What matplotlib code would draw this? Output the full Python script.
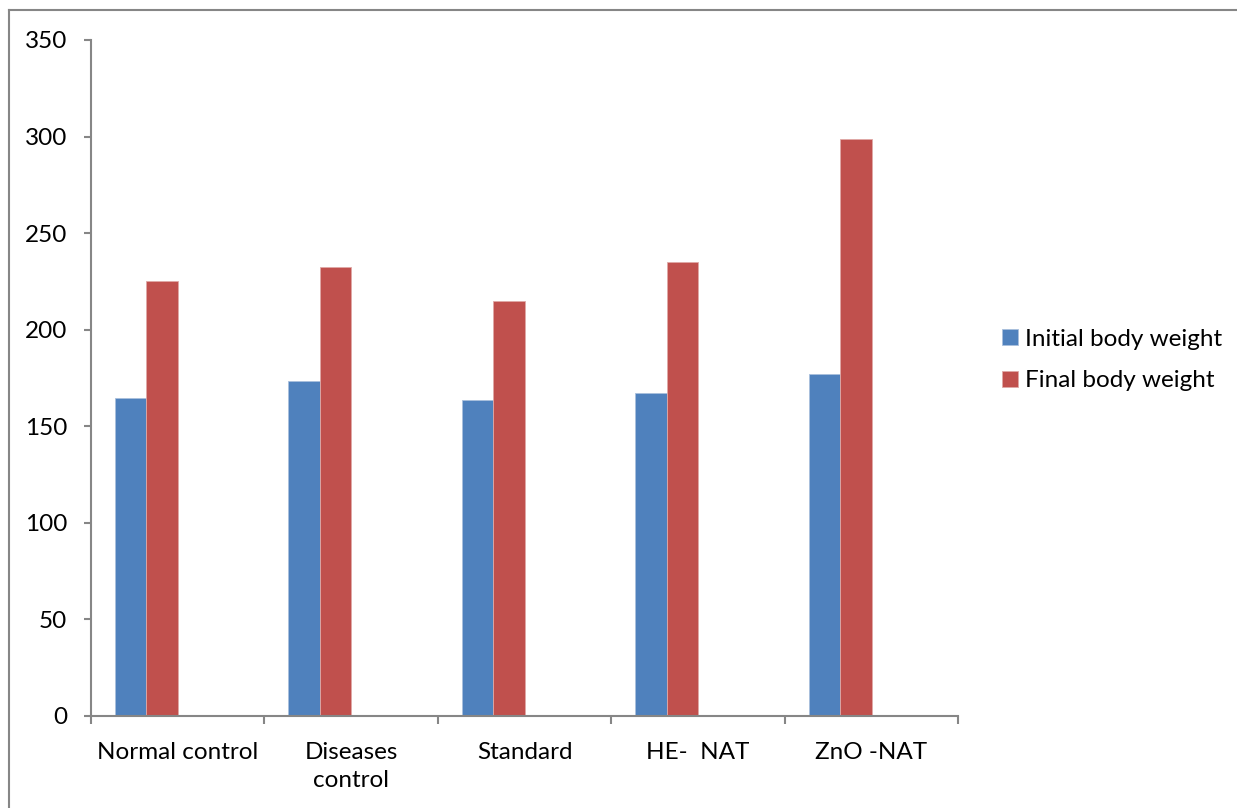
import numpy as np
import matplotlib.pyplot as plt
from matplotlib.lines import Line2D

groups = ["Normal control", "Diseases\ncontrol", "Standard", "HE-  NAT", "ZnO -NAT"]
initial_weight = [164.6, 173.3, 163.6, 167.2, 176.9]
final_weight = [225.2, 232.6, 214.9, 235.1, 298.6]
series_names = ["Initial body weight", "Final body weight"]

plt.rcParams["font.family"] = ["Lato", "DejaVu Sans"]
AXIS_GRAY = "#868686"
FS = 17.5

fig = plt.figure(figsize=(12.37, 8.08), dpi=100)
ax = fig.add_axes([91 / 1237, 1 - 716 / 808, (958 - 91) / 1237, (716 - 40) / 808])

x = np.arange(len(groups))
w = 0.182
ax.bar(x - 0.271, initial_weight, width=w, color="#4F81BD",
       edgecolor="#a9bfdc", linewidth=0.6, label=series_names[0])
ax.bar(x - 0.089, final_weight, width=w, color="#C0504D",
       edgecolor="#dfa9a7", linewidth=0.6, label=series_names[1])

ax.set_xlim(-0.5, len(groups) - 0.5)
ax.set_ylim(0, 350)
ax.set_yticks(np.arange(0, 351, 50))

# category boundaries carry the tick marks, labels sit at the centres
ax.set_xticks(np.arange(-0.5, len(groups), 1.0))
ax.set_xticklabels([])
ax.set_xticks(x, minor=True)
ax.set_xticklabels(groups, minor=True, fontsize=FS, linespacing=1.4)
ax.tick_params(axis="x", which="major", length=6, width=1.5, color=AXIS_GRAY, direction="out")
ax.tick_params(axis="x", which="minor", length=0, pad=19)
ax.tick_params(axis="y", length=5, width=1.5, color=AXIS_GRAY, labelsize=FS, pad=12)

for side in ("top", "right"):
    ax.spines[side].set_visible(False)
for side in ("left", "bottom"):
    ax.spines[side].set_color(AXIS_GRAY)
    ax.spines[side].set_linewidth(1.5)

fig.legend(loc="center left", bbox_to_anchor=(990 / 1237, 1 - 360 / 808),
           frameon=False, fontsize=FS, handlelength=0.65, handleheight=0.65,
           handletextpad=0.3, labelspacing=0.85, borderpad=0)

# thin frame round the chart area
fig.add_artist(Line2D([9 / 1237, 9 / 1237], [0, 1 - 10 / 808], color=AXIS_GRAY, lw=1.5))
fig.add_artist(Line2D([9 / 1237, 1], [1 - 10 / 808, 1 - 10 / 808], color=AXIS_GRAY, lw=1.5))

fig.savefig("out.png", dpi=100)
